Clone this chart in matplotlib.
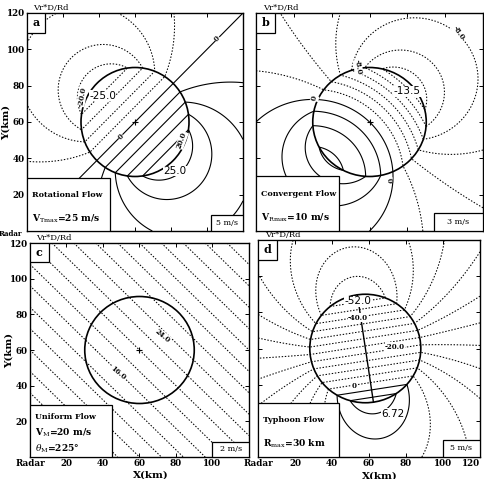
import numpy as np
import matplotlib
matplotlib.use("Agg")
import matplotlib.pyplot as plt
from matplotlib.patches import Rectangle, Circle

plt.rcParams['font.family'] = ['DejaVu Serif']
plt.rcParams['mathtext.fontset'] = 'dejavuserif'

# ---------------- data ----------------
panel_letters = ["a", "b", "c", "d"]
flow_names = ["Rotational Flow", "Convergent Flow", "Uniform Flow", "Typhoon Flow"]
flow_params = [[r"V$_{\rm Tmax}$=25 m/s"],
               [r"V$_{\rm Rmax}$=10 m/s"],
               [r"V$_{\rm M}$=20 m/s", r"$\theta_{\rm M}$=225°"],
               [r"R$_{\rm max}$=30 km"]]
scale_texts = ["5 m/s", "3 m/s", "2 m/s", "5 m/s"]
center_x = [60.0, 60.0, 60.0, 58.0]
center_y = [60.0, 60.0, 60.0, 60.0]
radius = [30.0, 30.0, 30.0, 30.0]
v_tmax_a = 25.0          # rotational flow
v_rmax_b = 10.0          # convergent flow
v_m_c = 20.0             # uniform flow speed
theta_m_c = 225.0        # uniform flow direction (deg)
d_min = -52.0            # typhoon panel: minimum (top of circle)
d_max = 6.72             # typhoon panel: maximum (bottom of circle)
d_decay = 0.5            # typhoon panel: outer decay exponent
d_tilt = 9.0             # typhoon panel: axis tilt (deg)
levels_a = [-20, -15, -10, -5, 0, 5, 10, 15, 20]
levels_b = [-12, -10, -8, -6, -4, -2, 0, 2, 4, 6]
levels_c = list(range(2, 40, 2))
levels_d = list(range(-48, 8, 4))
xtick_vals = [0, 20, 40, 60, 80, 100, 120]
xtick_text = ["Radar", "20", "40", "60", "80", "100", "120"]
ytick_vals = [20, 40, 60, 80, 100, 120]
ytick_text = ["20", "40", "60", "80", "100", "120"]
# contour annotations: (text, x, y, rotation, big?)
notes_a = [("-20.0", 30.5, 74, 80, 0), ("-25.0", 42, 74.5, 0, 1), ("0", 52, 52, 45, 0),
           ("0", 105.5, 106, 45, 0), ("20.0", 86, 50, 70, 0), ("25.0", 82, 33, 0, 1)]
notes_b = [("0", 31, 73, 75, 0), ("-8.0", 54, 90, -80, 0), ("-8.0", 107, 109, -55, 0),
           ("-13.5", 80, 77, 0, 1), ("0", 70, 28, -85, 0)]
notes_c = [("24.0", 72.7, 68, -40, 0), ("16.0", 48, 47, -40, 0)]
notes_d = [("-52.0", 54, 86, 0, 1), ("-40.0", 54, 77, 0, 0), ("-20.0", 74, 61, 0, 0),
           ("0", 52, 39, 0, 0), ("6.72", 73, 24, 0, 1)]
# box sizes (km)
text_box = [(46, 29), (44, 30), (45, 29), (44, 30)]
scale_box = [(18, 9), (26, 10), (20, 8.5), (20, 9.5)]

# ---------------- fields ----------------
gx = np.linspace(0, 120, 401)
gy = np.linspace(0, 120, 397)
X, Y = np.meshgrid(gx, gy)


def geom(i):
    dx = X - center_x[i]
    dy = Y - center_y[i]
    r2 = dx ** 2 + dy ** 2
    r2s = np.where(r2 == 0, 1e-9, r2)
    inside = r2 <= radius[i] ** 2
    rd = np.hypot(center_x[i], center_y[i])
    return dx, dy, r2s, inside, rd


def field_a():
    dx, dy, r2, ins, rd = geom(0)
    R = radius[0]
    u = np.where(ins, -v_tmax_a * dy / R, -v_tmax_a * R * dy / r2)
    v = np.where(ins, v_tmax_a * dx / R, v_tmax_a * R * dx / r2)
    return (u * X + v * Y) / rd


def field_b():
    dx, dy, r2, ins, rd = geom(1)
    R = radius[1]
    u = np.where(ins, -v_rmax_b * dx / R, -v_rmax_b * R * dx / r2)
    v = np.where(ins, -v_rmax_b * dy / R, -v_rmax_b * R * dy / r2)
    return (u * X + v * Y) / rd


def field_c():
    _, _, _, _, rd = geom(2)
    th = np.deg2rad(theta_m_c)
    u = -v_m_c * np.sin(th)
    v = -v_m_c * np.cos(th)
    return (u * X + v * Y) / rd


def field_d():
    dx, dy, r2, ins, rd = geom(3)
    R = radius[3]
    amp = (d_max - d_min) / 2.0
    off = -(d_max + d_min) / 2.0
    t = np.deg2rad(d_tilt)
    s = dx * np.sin(t) - dy * np.cos(t)
    r = np.sqrt(r2)
    inner = amp * s / R - off
    outer = amp * (R / r) ** d_decay * (s / r) - off
    return np.where(ins, inner, outer)


fields = [field_a(), field_b(), field_c(), field_d()]
levels = [levels_a, levels_b, levels_c, levels_d]
notes = [notes_a, notes_b, notes_c, notes_d]

DOT = (0, (1.4, 1.6))

W, H = 485, 479
fig = plt.figure(figsize=(4.85, 4.79), dpi=100)
rects_px = [(27, 13, 243, 231), (256, 13, 483, 231), (30, 243, 249, 457), (258, 240, 480, 457)]

for i, (l, t, r, b) in enumerate(rects_px):
    ax = fig.add_axes([l / W, 1 - b / H, (r - l) / W, (b - t) / H])
    ax.set_xlim(0, 120)
    ax.set_ylim(0, 120)
    f = fields[i]
    lv = levels[i]
    if i == 2:
        ax.contour(X, Y, f, levels=lv, colors='k', linewidths=0.75, linestyles=[DOT])
    else:
        neg = [v for v in lv if v < 0]
        pos = [v for v in lv if v >= 0]
        ax.contour(X, Y, f, levels=neg, colors='k', linewidths=0.75, linestyles=[DOT])
        ax.contour(X, Y, f, levels=pos, colors='k', linewidths=0.8, linestyles='solid')
    ax.add_patch(Circle((center_x[i], center_y[i]), radius[i], fill=False, lw=1.2,
                        ec='k', zorder=4))
    if i < 3:
        ax.plot([center_x[i]], [center_y[i]], marker='+', color='k', ms=5, mew=0.8, zorder=5)
    if i == 3:
        jmin = np.unravel_index(np.argmin(f), f.shape)
        jmax = np.unravel_index(np.argmax(f), f.shape)
        ax.plot([X[jmin], X[jmax]], [Y[jmin], Y[jmax]], color='k', lw=1.0, zorder=4)

    for (txt, tx, ty, rot, big) in notes[i]:
        if big:
            ax.text(tx, ty, txt, fontsize=7.5, family='DejaVu Sans', ha='center', va='center',
                    zorder=6, bbox=dict(fc='white', ec='none', pad=0.3))
        else:
            ax.text(tx, ty, txt, fontsize=5, rotation=rot, ha='center', va='center',
                    weight='bold', zorder=6, bbox=dict(fc='white', ec='none', pad=0.2))

    # flow description box
    bw, bh = text_box[i]
    ax.add_patch(Rectangle((0, 0), bw, bh, fc='white', ec='k', lw=0.9, zorder=7))
    lines = [flow_names[i]] + flow_params[i]
    n = len(lines)
    for k, txt in enumerate(lines):
        yy = bh * (1 - (k + 0.75) / (n + 0.3))
        ax.text(2.5, yy, txt, fontsize=5.8 if k == 0 else 6.6, weight='bold', ha='left',
                va='center', zorder=8)
    # speed scale box
    sw, sh = scale_box[i]
    ax.add_patch(Rectangle((120 - sw, 0), sw, sh, fc='white', ec='k', lw=0.9, zorder=7))
    ax.text(120 - sw / 2, sh / 2, scale_texts[i], fontsize=5.8, ha='center', va='center',
            zorder=8)
    # panel letter box
    ax.add_patch(Rectangle((0, 0.91), 0.085, 0.09, transform=ax.transAxes, fc='white',
                           ec='k', lw=0.9, zorder=7))
    ax.text(0.042, 0.955, panel_letters[i], transform=ax.transAxes, fontsize=8,
            weight='bold', ha='center', va='center', zorder=8)
    ax.text(0.03, 1.004, "Vr*D/Rd", transform=ax.transAxes, fontsize=6, ha='left',
            va='bottom')

    ax.tick_params(direction='in', length=3, width=0.7, top=True, right=True,
                   labelsize=6.3)
    ax.set_xticks(xtick_vals)
    ax.set_yticks(ytick_vals)
    if i >= 2:
        labs = xtick_text if i == 3 else xtick_text[:-1] + [""]
        ax.set_xticklabels(labs, fontweight='bold')
        ax.set_xlabel("X(km)", fontsize=7.5, weight='bold')
        ax.xaxis.set_label_coords(0.55, -0.065)
        if i == 3:
            ax.get_xticklabels()[-1].set_horizontalalignment('right')
    else:
        ax.set_xticklabels([])
    if i % 2 == 0:
        ax.set_yticklabels(ytick_text, fontweight='bold')
        ax.set_ylabel("Y(km)", fontsize=7.5, weight='bold')
        ax.yaxis.set_label_coords(-0.075, 0.5)
    else:
        ax.set_yticklabels([])
    ax.tick_params(axis='both', pad=1.5)
    for sp in ax.spines.values():
        sp.set_linewidth(1.0)
    if i == 0:
        ax.text(-0.02, 0.004, "Radar", transform=ax.transAxes, fontsize=5, weight='bold',
                ha='right', va='top')

fig.savefig("out.png", dpi=100)
